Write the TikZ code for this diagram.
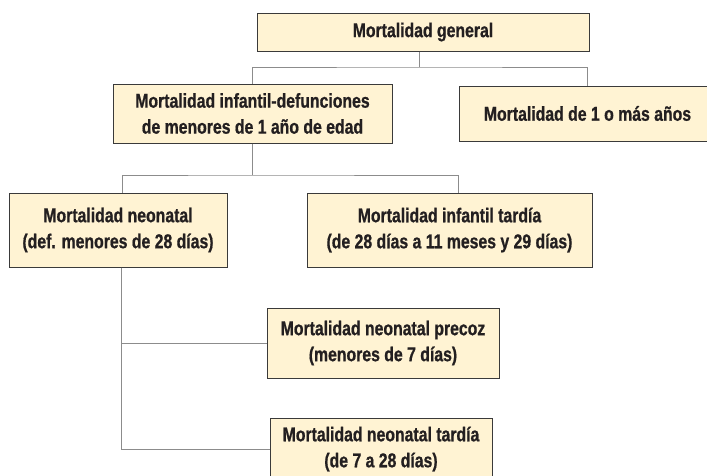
\documentclass[tikz,border=0pt]{standalone}
\usepackage{fontspec}
\newfontfamily\condfont[FakeStretch=0.79, FakeBold=0.8]{Liberation Sans}
\usepackage{xcolor}
\usepackage{tikz}
\usetikzlibrary{positioning}
\definecolor{boxfill}{HTML}{FFF3D3}
\definecolor{boxline}{HTML}{3A3A3A}
\definecolor{linkgray}{HTML}{8C8C8C}
\definecolor{textdark}{HTML}{231F20}

\begin{document}
\begin{tikzpicture}[
  x=1pt, y=-1pt,
  box/.style={draw=boxline, fill=boxfill, line width=1pt, align=center, inner sep=0pt, text=textdark, font=\condfont\bfseries\fontsize{20}{26}\selectfont},
  link/.style={draw=linkgray, line width=1pt}
]
\useasboundingbox (0,0) rectangle (707,475);

\node[box, minimum width=332pt, minimum height=38pt] (general) at (423,32) {Mortalidad general};
\node[box, minimum width=279pt, minimum height=59pt] (infantil) at (252.5,113.5) {Mortalidad infantil-defunciones\\de menores de 1 año de edad};
\node[box, minimum width=257pt, minimum height=55pt] (mayores) at (587.5,113.5) {Mortalidad de 1 o más años};
\node[box, minimum width=218pt, minimum height=74pt] (neonatal) at (118,230) {Mortalidad neonatal\\(def. menores de 28 días)};
\node[box, minimum width=285pt, minimum height=74pt] (tardia) at (449.5,230) {Mortalidad infantil tardía\\(de 28 días a 11 meses y 29 días)};
\node[box, minimum width=232pt, minimum height=70pt] (precoz) at (383,343) {Mortalidad neonatal precoz\\(menores de 7 días)};
\node[box, minimum width=222pt, minimum height=62pt] (neotardia) at (381,449) {Mortalidad neonatal tardía\\(de 7 a 28 días)};

% buses
\coordinate (topbus) at (419,67);
\coordinate (midbus) at (252.5,175);

\draw[link] (topbus |- general.south) -- (topbus);
\draw[link] (infantil.north) |- (topbus) -| (mayores.north);
\draw[link] (infantil.south) -- (midbus);
\draw[link] ([xshift=4pt]neonatal.north) |- (midbus) -| ([xshift=9pt]tardia.north);
\draw[link] ([xshift=3pt]neonatal.south) |- (precoz.west);
\draw[link] ([xshift=3pt]neonatal.south) |- (neotardia.west);
\end{tikzpicture}
\end{document}
